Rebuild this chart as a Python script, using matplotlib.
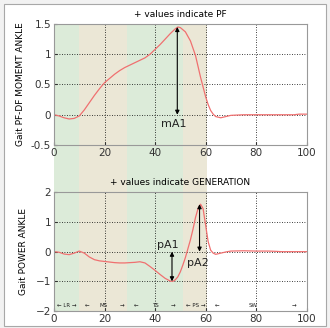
import matplotlib.pyplot as plt
from matplotlib.patches import Rectangle

# gait cycle (%) and ankle moment
cycle_m = [0, 2, 4, 6, 8, 10, 12, 14, 16, 18, 20, 22, 24, 26, 28, 30, 32, 34, 36, 38,
           40, 42, 44, 46, 48, 49, 50, 52, 54, 56, 58, 60, 61, 62, 63, 64, 66, 68, 70,
           75, 80, 85, 90, 95, 97, 98, 100]
moment = [0, -0.02, -0.05, -0.07, -0.06, -0.02, 0.08, 0.2, 0.32, 0.43, 0.53, 0.6, 0.67,
          0.73, 0.78, 0.82, 0.86, 0.9, 0.94, 1.0, 1.08, 1.16, 1.25, 1.34, 1.42, 1.45,
          1.44, 1.37, 1.22, 0.98, 0.62, 0.3, 0.17, 0.07, 0.01, -0.03, -0.05, -0.03, -0.01,
          0, 0, 0, 0, 0, 0.01, 0.01, 0.01]

# ankle power
cycle_p = [0, 2, 4, 6, 8, 10, 12, 14, 16, 18, 20, 22, 24, 26, 28, 30, 32, 34, 36, 38,
           40, 42, 44, 46, 47, 48, 49, 50, 51, 52, 53, 54, 55, 56, 57, 58, 59, 60, 61,
           62, 63, 64, 65, 66, 68, 70, 75, 80, 85, 88, 90, 95, 100]
power = [0, -0.02, -0.08, -0.1, -0.05, 0.02, -0.05, -0.18, -0.27, -0.31, -0.33, -0.35,
         -0.37, -0.38, -0.38, -0.37, -0.36, -0.34, -0.38, -0.5, -0.63, -0.77, -0.9,
         -0.99, -1.0, -0.95, -0.85, -0.68, -0.45, -0.2, 0.1, 0.4, 0.75, 1.15, 1.45, 1.6,
         1.45, 0.9, 0.34, 0.05, -0.05, -0.09, -0.07, -0.05, -0.01, 0.02, 0.03, 0.02,
         0.02, 0.01, 0, 0, 0]

# gait phases: start, end, colour
phase_edges = [0, 10, 29, 51, 60.5]
phase_colors = ['#dcebd9', '#ebe7d6', '#dcebd9', '#ebe7d6']

# phase text along the bottom of the power plot
phase_text = ['\u2190 LR \u2192', '\u2190', 'MS', '\u2192', '\u2190', 'TS', '\u2192',
              '\u2190 PS \u2192', '\u2190', 'SW', '\u2192']
phase_text_x = [5, 13, 19.5, 27, 32.5, 40, 47, 56, 64.5, 79, 95]

# peak markers
mA1 = (48.8, 1.45, 0.0)
pA1 = (46.7, 0.0, -1.0)
pA2 = (57.6, 1.6, 0.0)

line_col = '#f07070'

fig = plt.figure(figsize=(3.3, 3.28), dpi=100, facecolor='#f2f2f2')
fig.patches.append(Rectangle((0.012, 0.006), 0.976, 0.982, transform=fig.transFigure,
                             facecolor='white', edgecolor='#a8a8a8', lw=0.8, zorder=-5))

left, width = 0.1636, 0.7657
bg = fig.add_axes([left, 0.0518, width, 0.9268 - 0.0518], zorder=0)
bg.set_xlim(0, 100)
bg.set_ylim(0, 1)
bg.axis('off')
for i in range(len(phase_colors)):
    bg.axvspan(phase_edges[i], phase_edges[i + 1], color=phase_colors[i], lw=0)

ax1 = fig.add_axes([left, 0.5579, width, 0.369], zorder=1)
ax2 = fig.add_axes([left, 0.0518, width, 0.3619], zorder=1)

for ax in (ax1, ax2):
    ax.set_facecolor('none')
    ax.set_xlim(0, 100)
    ax.set_xticks([0, 20, 40, 60, 80, 100])
    ax.grid(True, color='black', linestyle=(0, (1, 2)), lw=0.6)
    ax.tick_params(direction='in', length=2, labelsize=7.5, pad=2, colors='#333333')
    for s in ax.spines.values():
        s.set_color('#999999')
        s.set_linewidth(0.8)

ax1.plot(cycle_m, moment, color=line_col, lw=0.9)
ax1.set_ylim(-0.5, 1.5)
ax1.set_yticks([-0.5, 0, 0.5, 1, 1.5])
ax1.set_yticklabels(['-0.5', '0', '0.5', '1', '1.5'])
ax1.set_title('+ values indicate PF', fontsize=6.5, pad=5)
ax1.set_ylabel('Gait PF-DF MOMEMT ANKLE', fontsize=6.5, labelpad=4)

ax1.annotate('', xy=(mA1[0], mA1[2]), xytext=(mA1[0], mA1[1]),
             arrowprops=dict(arrowstyle='<|-|>', color='black', lw=0.8, mutation_scale=6,
                             shrinkA=0, shrinkB=0))
ax1.text(mA1[0] - 1.5, -0.15, 'mA1', fontsize=8, ha='center', va='center', color='#222222')

ax2.plot(cycle_p, power, color=line_col, lw=0.9)
ax2.set_ylim(-2, 2)
ax2.set_yticks([-2, -1, 0, 1, 2])
ax2.set_title('+ values indicate GENERATION', fontsize=6.5, pad=5)
ax2.set_ylabel('Gait POWER ANKLE', fontsize=6.5, labelpad=6)

for x0, ya, yb in (pA1, pA2):
    ax2.annotate('', xy=(x0, yb), xytext=(x0, ya),
                 arrowprops=dict(arrowstyle='<|-|>', color='black', lw=0.8, mutation_scale=6,
                                 shrinkA=0, shrinkB=0))
ax2.text(45, 0.22, 'pA1', fontsize=8, ha='center', va='center', color='#222222')
ax2.text(57, -0.38, 'pA2', fontsize=8, ha='center', va='center', color='#222222')

for t, x in zip(phase_text, phase_text_x):
    ax2.text(x, -1.8, t, fontsize=4, ha='center', va='center', color='#222222')

fig.savefig('out.png', dpi=100, facecolor=fig.get_facecolor())
